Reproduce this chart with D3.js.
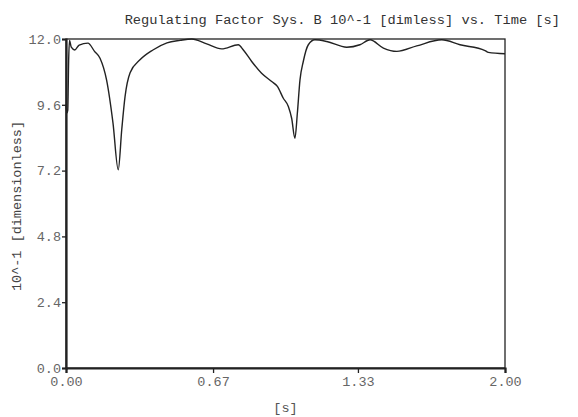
<!DOCTYPE html>
<html>
<head>
<meta charset="utf-8">
<script src="https://cdn.jsdelivr.net/npm/d3@7"></script>
<style>
  body { margin: 0; background: #fff; }
  text { font-family: "Liberation Mono", "Courier New", monospace; }
</style>
</head>
<body>
<script>
// time [s]
var times = [0.000, 0.004, 0.008, 0.012, 0.016, 0.024, 0.040, 0.060, 0.100, 0.130, 0.155, 0.185,
  0.214, 0.238, 0.254, 0.269, 0.292, 0.337, 0.396, 0.460, 0.520, 0.573, 0.641, 0.709, 0.785,
  0.808, 0.846, 0.891, 0.937, 0.963, 0.990, 1.013, 1.028, 1.043, 1.054, 1.066, 1.081, 1.104,
  1.134, 1.188, 1.279, 1.339, 1.385, 1.446, 1.507, 1.598, 1.712, 1.795, 1.909, 1.924, 2.000];
// regulating factor 10^-1
var values = [9.6, 9.3, 9.4, 11.2, 11.95, 11.7, 11.6, 11.78, 11.85, 11.55, 11.3, 10.5,
  8.94, 7.23, 8.7, 9.9, 10.77, 11.24, 11.6, 11.86, 11.95, 12.0, 11.82, 11.64, 11.79,
  11.6, 11.18, 10.75, 10.45, 10.27, 9.84, 9.54, 9.11, 8.38, 9.29, 10.51, 11.18, 11.79,
  11.97, 11.91, 11.7, 11.79, 11.97, 11.67, 11.55, 11.75, 11.97, 11.79, 11.58, 11.51, 11.46];
var xTicks = [0, 0.67, 1.33, 2.0];
var yTicks = [0, 2.4, 4.8, 7.2, 9.6, 12.0];

var data = times.map(function(t, i) { return { t: t, v: values[i] }; });

var svgWidth = 578, svgHeight = 417;
var margin = { top: 39, right: 73, bottom: 49, left: 66 };
var width = svgWidth - margin.left - margin.right;
var height = svgHeight - margin.top - margin.bottom;

var svg = d3.select("body").append("svg")
  .attr("width", svgWidth)
  .attr("height", svgHeight);

var chart = svg.append("g")
  .attr("transform", `translate(${margin.left}, ${margin.top})`);

var x = d3.scaleLinear().domain([0, 2]).range([0, width]);
var y = d3.scaleLinear().domain([0, 12]).range([height, 0]);

// frame
chart.append("rect")
  .attr("width", width).attr("height", height)
  .attr("fill", "none").attr("stroke", "#222").attr("stroke-width", 1.3);

// curve
var line = d3.line()
  .x(d => x(d.t))
  .y(d => y(d.v))
  .curve(d3.curveMonotoneX);

chart.append("path")
  .datum(data)
  .attr("fill", "none")
  .attr("stroke", "#222")
  .attr("stroke-width", 1.4)
  .attr("d", line);

// axes
var bottomAxis = d3.axisBottom(x).tickValues(xTicks).tickFormat(d3.format(".2f"))
  .tickSize(5).tickPadding(3);
var leftAxis = d3.axisLeft(y).tickValues(yTicks).tickFormat(d3.format(".1f"))
  .tickSize(4).tickPadding(1);

var gx = chart.append("g").attr("transform", `translate(0, ${height})`).call(bottomAxis);
var gy = chart.append("g").call(leftAxis);

[gx, gy].forEach(function(g) {
  g.select(".domain").attr("stroke", "#222").attr("stroke-width", 2.2);
  g.selectAll(".tick line").attr("stroke", "#222").attr("stroke-width", 1.3);
  g.selectAll(".tick text")
    .attr("fill", "#666")
    .style("font-size", "13.5px")
    .style("font-family", "'Liberation Mono', monospace");
});

// title
svg.append("text")
  .attr("x", 560).attr("y", 24)
  .attr("text-anchor", "end")
  .attr("fill", "#333")
  .style("font-size", "13.7px")
  .text("Regulating Factor Sys. B 10^-1 [dimless] vs. Time [s]");

// axis labels
svg.append("text")
  .attr("x", margin.left + width / 2).attr("y", 412)
  .attr("text-anchor", "middle")
  .attr("fill", "#555")
  .style("font-size", "13.5px")
  .text("[s]");

svg.append("text")
  .attr("transform", "translate(21, 206) rotate(-90)")
  .attr("text-anchor", "middle")
  .attr("fill", "#444")
  .style("font-size", "13.5px")
  .text("10^-1 [dimensionless]");
</script>
</body>
</html>
